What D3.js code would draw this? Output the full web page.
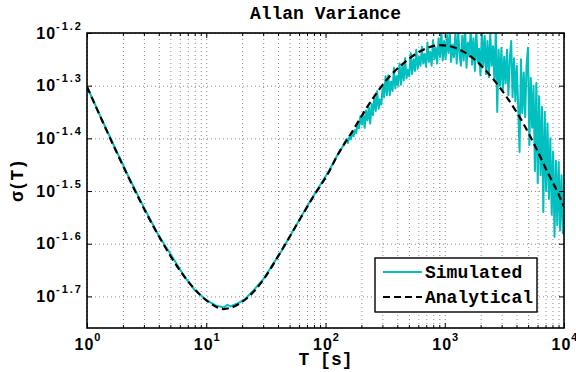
<!DOCTYPE html>
<html>
<head>
<meta charset="utf-8">
<script src="https://cdn.jsdelivr.net/npm/d3@7"></script>
<style>
body { margin: 0; background: #fff; }
.grid line { stroke: #8a8a8a; stroke-dasharray: 1,3; }
.grid path { display: none; }
.mono { font-family: "Liberation Mono", "DejaVu Sans Mono", monospace; font-weight: bold; }
.sans { font-family: "Liberation Sans", Arial, sans-serif; font-weight: bold; }
</style>
</head>
<body>
<div id="chart"></div>
<script>
(function() {

const w = 576;
const h = 372;
const left = 87, right = 564, top = 33, bottom = 328;

// analytical Allan deviation
const anaT = [1, 1.9, 3.62, 6.9, 10.1, 14, 15.8, 21.8, 30, 41.5, 57.3, 78.9, 109, 124, 171, 235,
    325, 448, 618, 910, 1256, 1731, 2388, 3293, 4541, 5877, 7125, 8920, 10000];
const anaSigma = [0.04989, 0.03622, 0.02704, 0.02143, 0.01959, 0.01888, 0.01897, 0.01977, 0.02143,
    0.02410, 0.02729, 0.03083, 0.03467, 0.03673, 0.04130, 0.04645, 0.05140, 0.05521, 0.05821,
    0.05984, 0.05902, 0.05649, 0.05248, 0.04775, 0.04256, 0.03802, 0.03467, 0.03133, 0.02951];

// simulated run, as the exponent of 10
const simT = [1, 1.3, 1.7, 2.2, 3, 4, 5, 6.5, 8, 10, 12, 14, 15, 16, 18, 21, 25, 30, 36, 43, 52, 62, 75, 90, 108, 125, 140,
    150, 154, 158, 163, 167, 172, 176, 181, 186, 191,
    196, 202, 207, 213, 219, 225, 231, 237, 244, 250,
    257, 264, 271, 279, 286, 294, 302, 310, 319, 327,
    336, 346, 355, 365, 375, 385, 396, 406, 418, 429,
    441, 453, 465, 478, 491, 504, 518, 532, 547, 562,
    577, 593, 609, 626, 643, 660, 678, 697, 716, 735,
    755, 776, 797, 819, 841, 864, 888, 912, 937, 962,
    989, 1016, 1043, 1072, 1101, 1131, 1162, 1194, 1227, 1260,
    1295, 1330, 1366, 1404, 1442, 1481, 1522, 1563, 1606, 1650,
    1695, 1741, 1789, 1838, 1888, 1940, 1993, 2047, 2103, 2161,
    2220, 2280, 2343, 2407, 2472, 2540, 2609, 2681, 2754, 2829,
    2907, 2986, 3068, 3152, 3238, 3326, 3417, 3511, 3607, 3705,
    3807, 3911, 4018, 4127, 4240, 4356, 4476, 4598, 4724, 4853,
    4986, 5122, 5262, 5406, 5554, 5706, 5862, 6022, 6187, 6356,
    6530, 6708, 6892, 7080, 7274, 7473, 7677, 7887, 8103, 8324,
    8552, 8786, 9026, 9273, 9526, 9787, 10000];
const simExp = [-1.302, -1.359, -1.416, -1.470, -1.531, -1.585, -1.619, -1.661, -1.688, -1.707, -1.717, -1.721,
    -1.716, -1.719, -1.714, -1.706, -1.688, -1.668, -1.640, -1.613, -1.580, -1.550, -1.518, -1.489, -1.460,
    -1.433, -1.415,
    -1.401, -1.409, -1.398, -1.402, -1.389, -1.396, -1.384, -1.390, -1.372, -1.381,
    -1.358, -1.374, -1.352, -1.380, -1.347, -1.366, -1.341, -1.372, -1.335, -1.356,
    -1.322, -1.348, -1.310, -1.344, -1.326, -1.336, -1.300, -1.322, -1.282, -1.318,
    -1.280, -1.318, -1.292, -1.310, -1.266, -1.305, -1.282, -1.300, -1.258, -1.298,
    -1.262, -1.290, -1.248, -1.286, -1.270, -1.282, -1.238, -1.278, -1.250, -1.272,
    -1.232, -1.268, -1.245, -1.262, -1.226, -1.258, -1.240, -1.264, -1.218, -1.255,
    -1.236, -1.262, -1.214, -1.250, -1.228, -1.258, -1.210, -1.246, -1.198, -1.252,
    -1.215, -1.250, -1.204, -1.238, -1.196, -1.255, -1.222, -1.246, -1.200, -1.258,
    -1.193, -1.240, -1.262, -1.205, -1.252, -1.188, -1.266, -1.218, -1.245, -1.195,
    -1.260, -1.210, -1.272, -1.192, -1.255, -1.230, -1.280, -1.198, -1.262, -1.205,
    -1.278, -1.215, -1.284, -1.200, -1.262, -1.225, -1.290, -1.190, -1.350, -1.232,
    -1.300, -1.228, -1.310, -1.245, -1.296, -1.232, -1.318, -1.250, -1.215, -1.322,
    -1.248, -1.330, -1.262, -1.338, -1.426, -1.250, -1.352, -1.275, -1.360, -1.262,
    -1.228, -1.413, -1.285, -1.380, -1.300, -1.462, -1.295, -1.485, -1.320, -1.470,
    -1.340, -1.540, -1.350, -1.500, -1.372, -1.515, -1.400, -1.545, -1.425, -1.587,
    -1.442, -1.565, -1.445, -1.575, -1.470, -1.580, -1.555];

const xTicks = [1, 10, 100, 1000, 10000];
const xTickExps = [0, 1, 2, 3, 4];
const yTickExps = [-1.2, -1.3, -1.4, -1.5, -1.6, -1.7];
const legendLabels = ["Simulated", "Analytical"];

const cyan = "#00bfbf";

var xMinor = [];
[1, 10, 100, 1000].forEach(function(d) {
    for (var m = 2; m <= 9; m++) xMinor.push(m * d);
});
var yTicks = yTickExps.map(function(e) { return Math.pow(10, e); });

var x = d3.scaleLog().domain([1, 1e4]).range([left, right]);
var y = d3.scaleLog().domain([Math.pow(10, -1.76), Math.pow(10, -1.2)]).range([bottom, top]);

var svg = d3.select("#chart")
    .append("svg")
    .attr("width", w)
    .attr("height", h);

svg.append("clipPath")
    .attr("id", "plotclip")
    .append("rect")
    .attr("x", left)
    .attr("y", top)
    .attr("width", right - left)
    .attr("height", bottom - top);

// dotted grid
svg.append("g")
    .attr("class", "grid")
    .attr("transform", "translate(0," + bottom + ")")
    .call(d3.axisBottom(x).tickValues(xTicks.concat(xMinor)).tickSize(-(bottom - top)).tickFormat(""));

svg.append("g")
    .attr("class", "grid")
    .attr("transform", "translate(" + left + ",0)")
    .call(d3.axisLeft(y).tickValues(yTicks).tickSize(-(right - left)).tickFormat(""));

// curves
var simData = simT.map(function(t, i) { return { t: t, s: Math.pow(10, simExp[i]) }; });
var anaData = anaT.map(function(t, i) { return { t: t, s: anaSigma[i] }; });

var line = d3.line()
    .x(function(d) { return x(d.t); })
    .y(function(d) { return y(d.s); });

var plot = svg.append("g").attr("clip-path", "url(#plotclip)");

plot.append("path")
    .datum(simData)
    .attr("fill", "none")
    .attr("stroke", cyan)
    .attr("stroke-width", 2)
    .attr("stroke-linejoin", "round")
    .attr("d", line);

plot.append("path")
    .datum(anaData)
    .attr("fill", "none")
    .attr("stroke", "#000")
    .attr("stroke-width", 2.2)
    .attr("stroke-dasharray", "7,4")
    .attr("d", line.curve(d3.curveMonotoneX));

// ticks on all four sides
function ticks(axis, transform) {
    var g = svg.append("g").attr("transform", transform).call(axis);
    g.select(".domain").remove();
    g.selectAll(".tick line").attr("stroke", "#000");
}
ticks(d3.axisTop(x).tickValues(xTicks).tickSize(5).tickFormat(""), "translate(0," + bottom + ")");
ticks(d3.axisTop(x).tickValues(xMinor).tickSize(3).tickFormat(""), "translate(0," + bottom + ")");
ticks(d3.axisBottom(x).tickValues(xTicks).tickSize(5).tickFormat(""), "translate(0," + top + ")");
ticks(d3.axisBottom(x).tickValues(xMinor).tickSize(3).tickFormat(""), "translate(0," + top + ")");
ticks(d3.axisRight(y).tickValues(yTicks).tickSize(5).tickFormat(""), "translate(" + left + ",0)");
ticks(d3.axisLeft(y).tickValues(yTicks).tickSize(5).tickFormat(""), "translate(" + right + ",0)");

svg.append("rect")
    .attr("x", left)
    .attr("y", top)
    .attr("width", right - left)
    .attr("height", bottom - top)
    .attr("fill", "none")
    .attr("stroke", "#000")
    .attr("stroke-width", 1.6);

// tick labels as 10^n
svg.append("g")
    .selectAll("text")
    .data(xTickExps)
    .enter()
    .append("text")
    .attr("class", "sans")
    .attr("x", function(d, i) { return x(xTicks[i]) + 1; })
    .attr("y", 350)
    .attr("text-anchor", "middle")
    .attr("font-size", 16)
    .attr("letter-spacing", 1)
    .each(function(d) {
        var t = d3.select(this);
        t.append("tspan").text("10");
        t.append("tspan").attr("dy", -9).attr("font-size", 11).text(d);
    });

svg.append("g")
    .selectAll("text")
    .data(yTickExps)
    .enter()
    .append("text")
    .attr("class", "sans")
    .attr("x", 83)
    .attr("y", function(d) { return y(Math.pow(10, d)) + 5.5; })
    .attr("text-anchor", "end")
    .attr("font-size", 16)
    .attr("letter-spacing", 1)
    .each(function(d) {
        var t = d3.select(this);
        t.append("tspan").text("10");
        t.append("tspan").attr("dy", -9).attr("font-size", 11).attr("letter-spacing", 2).text(d.toFixed(1));
    });

// title and axis labels
svg.append("text")
    .attr("class", "mono")
    .attr("x", (left + right) / 2)
    .attr("y", 19)
    .attr("text-anchor", "middle")
    .attr("font-size", 18)
    .text("Allan Variance");

svg.append("text")
    .attr("class", "mono")
    .attr("x", (left + right) / 2)
    .attr("y", 365)
    .attr("text-anchor", "middle")
    .attr("font-size", 18)
    .text("T [s]");

svg.append("text")
    .attr("class", "mono")
    .attr("transform", "translate(23," + ((top + bottom) / 2) + ") rotate(-90)")
    .attr("text-anchor", "middle")
    .attr("font-size", 18)
    .text("σ(T)");

// legend
var legend = svg.append("g").attr("transform", "translate(375,258)");

legend.append("rect")
    .attr("width", 162)
    .attr("height", 54)
    .attr("fill", "#fff")
    .attr("stroke", "#000")
    .attr("stroke-width", 1.4);

var items = legend.selectAll("g.item")
    .data(legendLabels)
    .enter()
    .append("g")
    .attr("class", "item")
    .attr("transform", function(d, i) { return "translate(0," + (14 + i * 25) + ")"; });

items.append("line")
    .attr("x1", 8)
    .attr("x2", 47)
    .attr("stroke", function(d, i) { return i == 0 ? cyan : "#000"; })
    .attr("stroke-width", 2)
    .attr("stroke-dasharray", function(d, i) { return i == 0 ? null : "7,4"; });

items.append("text")
    .attr("class", "mono")
    .attr("x", 50)
    .attr("y", 6)
    .attr("font-size", 18)
    .text(function(d) { return d; });

})();
</script>
</body>
</html>
